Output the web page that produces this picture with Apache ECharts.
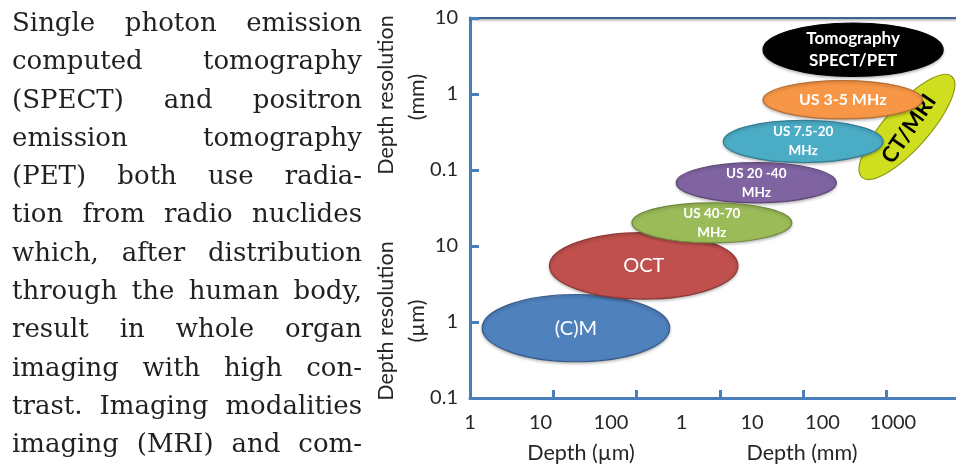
<!DOCTYPE html>
<html>
<head>
<meta charset="utf-8">
<script src="https://cdn.jsdelivr.net/npm/echarts@6/dist/echarts.min.js"></script>
<style>
  html, body { margin: 0; padding: 0; background: #fff; }
  #wrap { position: relative; width: 956px; height: 467px; overflow: hidden; }
  #chart { position: absolute; left: 0; top: 0; width: 1060px; height: 467px; }
  #para { position: absolute; left: 12px; top: 3px; width: 350px;
          font-family: 'DejaVu Serif', serif; font-size: 23px; color: #231f20; }
  #para div { height: 38.3px; line-height: 38.3px; text-align: justify; text-align-last: justify; white-space: nowrap; }
</style>
</head>
<body>
<div id="wrap">
  <div id="chart"></div>
  <div id="para"></div>
</div>
<script>
// ---- text beside the chart ----
const paragraphLines = [
  'Single photon emission',
  'computed tomography',
  '(SPECT) and positron',
  'emission tomography',
  '(PET) both use radia-',
  'tion from radio nuclides',
  'which, after distribution',
  'through the human body,',
  'result in whole organ',
  'imaging with high con-',
  'trast. Imaging modalities',
  'imaging (MRI) and com-'
];

// ---- chart data (depth and resolution in µm) ----
const modalities = ['Tomography\nSPECT/PET', 'US 3-5 MHz', 'US 7.5-20\nMHz', 'US 20 -40\nMHz', '(C)M', 'OCT', 'US 40-70\nMHz'];
const depthMin = [3300, 3300, 1100, 300, 1.4, 9, 88];
const depthMax = [480000, 270000, 91000, 25000, 250, 1650, 7300];
const resMin   = [1700, 470, 125, 37, 0.3, 2, 11];
const resMax   = [8600, 1500, 450, 125, 2.3, 15, 37];

// CT/MRI: tilted ellipse, ends of its long axis
const tiltedName = ['CT/MRI'];
const tiltedDepthA = [51000];
const tiltedResA = [80];
const tiltedDepthB = [610000];
const tiltedResB = [1700];

// tick labels
const xTickLabels = ['1', '10', '100', '1', '10', '100', '1000'];
const yTickLabels = ['0.1', '1', '10', '0.1', '1', '10'];

// ---- styles ----
const shapeStyles = [
  { fill: '#000000', stroke: '#000000', color: '#ffffff', size: 17, weight: 'bold', lh: 22 },
  { fill: '#f79646', stroke: '#b66d31', color: '#ffffff', size: 16, weight: 'bold', lh: 19 },
  { fill: '#4bacc6', stroke: '#357d91', color: '#ffffff', size: 13.5, weight: 'bold', lh: 19 },
  { fill: '#8064a2', stroke: '#5c4776', color: '#ffffff', size: 13.5, weight: 'bold', lh: 19 },
  { fill: '#4f81bd', stroke: '#385d8a', color: '#ffffff', size: 20, weight: 'normal', lh: 22 },
  { fill: '#c0504d', stroke: '#8c3836', color: '#ffffff', size: 20, weight: 'normal', lh: 22 },
  { fill: '#9bbb59', stroke: '#71893f', color: '#ffffff', size: 13.5, weight: 'bold', lh: 19 }
];
const tiltedStyle = { fill: '#cfdf1f', stroke: '#8f9a14', color: '#000000', size: 22, weight: 'bold', halfWidth: 22 };

const FONT = 'Lato, "Open Sans", sans-serif';
const AXIS = '#4a7ebb';
const TXT = '#262626';

// paragraph: one font size so that the widest line just fills the column
(function () {
  const para = document.getElementById('para');
  const cv = document.createElement('canvas').getContext('2d');
  cv.font = '100px "DejaVu Serif"';
  let maxW = 0;
  paragraphLines.forEach(l => { maxW = Math.max(maxW, cv.measureText(l).width); });
  const size = Math.min(26, 100 * 348 / maxW);
  para.style.fontSize = size.toFixed(2) + 'px';
  para.innerHTML = paragraphLines.map(l => '<div>' + l + '</div>').join('');
})();

const chart = echarts.init(document.getElementById('chart'), null, { renderer: 'canvas' });

const gridLeft = 470, gridTop = 18, gridWidth = 583, gridHeight = 380;
const nameStyle = { fontSize: 21.5, fontFamily: FONT, fill: TXT, align: 'center', verticalAlign: 'middle' };

const option = {
  animation: false,
  backgroundColor: 'transparent',
  grid: { left: gridLeft, top: gridTop, width: gridWidth, height: gridHeight, containLabel: false },
  xAxis: [
    {
      type: 'log', logBase: 10, min: 1, max: 1e7, position: 'bottom',
      axisLine: { lineStyle: { color: AXIS, width: 3 } },
      axisTick: { inside: true, length: 8, lineStyle: { color: AXIS, width: 3 } },
      axisLabel: { show: false },
      splitLine: { show: false }, minorTick: { show: false }
    },
    {
      type: 'value', min: 0, max: 1, position: 'top',
      axisLine: { show: true, lineStyle: { color: '#3d6391', width: 2, shadowColor: 'rgba(0,0,0,0.35)', shadowOffsetY: 1.5, shadowBlur: 2 } },
      axisTick: { show: false }, axisLabel: { show: false }, splitLine: { show: false }
    },
    {
      type: 'value', min: 0, max: gridWidth / 70.5, interval: 1, position: 'bottom',
      axisLine: { show: false }, axisTick: { show: false }, splitLine: { show: false },
      axisLabel: {
        margin: 15, fontSize: 20, color: TXT, fontFamily: FONT, showMaxLabel: false,
        formatter: v => (xTickLabels[Math.round(v)] !== undefined ? xTickLabels[Math.round(v)] : '')
      }
    }
  ],
  yAxis: [
    {
      type: 'log', logBase: 10, min: 0.1, max: 1e4,
      axisLine: { lineStyle: { color: AXIS, width: 3 } },
      axisTick: { inside: true, length: 9, lineStyle: { color: AXIS, width: 3 } },
      axisLabel: {
        margin: 12, fontSize: 20, color: TXT, fontFamily: FONT,
        formatter: v => yTickLabels[Math.round(Math.log10(v)) + 1]
      },
      splitLine: { show: false }
    }
  ],
  graphic: [
    { type: 'text', x: 386, y: 95, rotation: Math.PI / 2, style: Object.assign({ text: 'Depth resolution' }, nameStyle) },
    { type: 'text', x: 417, y: 97, rotation: Math.PI / 2, style: Object.assign({ text: '(mm)' }, nameStyle) },
    { type: 'text', x: 386, y: 321, rotation: Math.PI / 2, style: Object.assign({ text: 'Depth resolution' }, nameStyle) },
    { type: 'text', x: 417, y: 321, rotation: Math.PI / 2, style: Object.assign({ text: '(µm)' }, nameStyle) },
    { type: 'text', x: 581, y: 453, style: Object.assign({ text: 'Depth (µm)' }, nameStyle) },
    { type: 'text', x: 802, y: 453, style: Object.assign({ text: 'Depth (mm)' }, nameStyle) }
  ],
  series: [
    {
      type: 'custom', name: 'CT/MRI', xAxisIndex: 0, yAxisIndex: 0, clip: false,
      encode: { x: [0, 2], y: [1, 3] },
      data: tiltedName.map((n, i) => [tiltedDepthA[i], tiltedResA[i], tiltedDepthB[i], tiltedResB[i]]),
      renderItem: function (params, api) {
        const i = params.dataIndex;
        const a = api.coord([api.value(0), api.value(1)]);
        const b = api.coord([api.value(2), api.value(3)]);
        const cx = (a[0] + b[0]) / 2, cy = (a[1] + b[1]) / 2;
        const dx = b[0] - a[0], dy = b[1] - a[1];
        const half = Math.sqrt(dx * dx + dy * dy) / 2;
        const rot = Math.atan2(-dy, dx);
        const s = tiltedStyle;
        return {
          type: 'group',
          children: [
            { type: 'ellipse', x: cx, y: cy, rotation: rot,
              shape: { cx: 0, cy: 0, rx: half, ry: s.halfWidth },
              style: { fill: s.fill, stroke: s.stroke, lineWidth: 1.2 } },
            { type: 'text', x: cx + 2, y: cy + 2, rotation: rot + 0.12,
              style: { text: tiltedName[i], fill: s.color, fontSize: s.size, fontWeight: s.weight, fontFamily: FONT, align: 'center', verticalAlign: 'middle' } }
          ]
        };
      }
    },
    {
      type: 'custom', name: 'modalities', xAxisIndex: 0, yAxisIndex: 0, clip: false,
      encode: { x: [0, 1], y: [2, 3] },
      data: modalities.map((n, i) => [depthMin[i], depthMax[i], resMin[i], resMax[i]]),
      renderItem: function (params, api) {
        const i = params.dataIndex;
        const p1 = api.coord([api.value(0), api.value(2)]);
        const p2 = api.coord([api.value(1), api.value(3)]);
        const cx = (p1[0] + p2[0]) / 2, cy = (p1[1] + p2[1]) / 2;
        const rx = Math.abs(p2[0] - p1[0]) / 2, ry = Math.abs(p2[1] - p1[1]) / 2;
        const s = shapeStyles[i];
        return {
          type: 'group',
          children: [
            { type: 'ellipse', shape: { cx: cx, cy: cy, rx: rx, ry: ry },
              style: { fill: s.fill, stroke: s.stroke, lineWidth: 1.2, shadowColor: 'rgba(0,0,0,0.25)', shadowBlur: 3, shadowOffsetY: 1.5 } },
            { type: 'text', x: cx, y: cy,
              style: { text: modalities[i], fill: s.color, fontSize: s.size, fontWeight: s.weight, fontFamily: FONT, lineHeight: s.lh, align: 'center', verticalAlign: 'middle' } }
          ]
        };
      }
    }
  ]
};
chart.setOption(option);
</script>
</body>
</html>
